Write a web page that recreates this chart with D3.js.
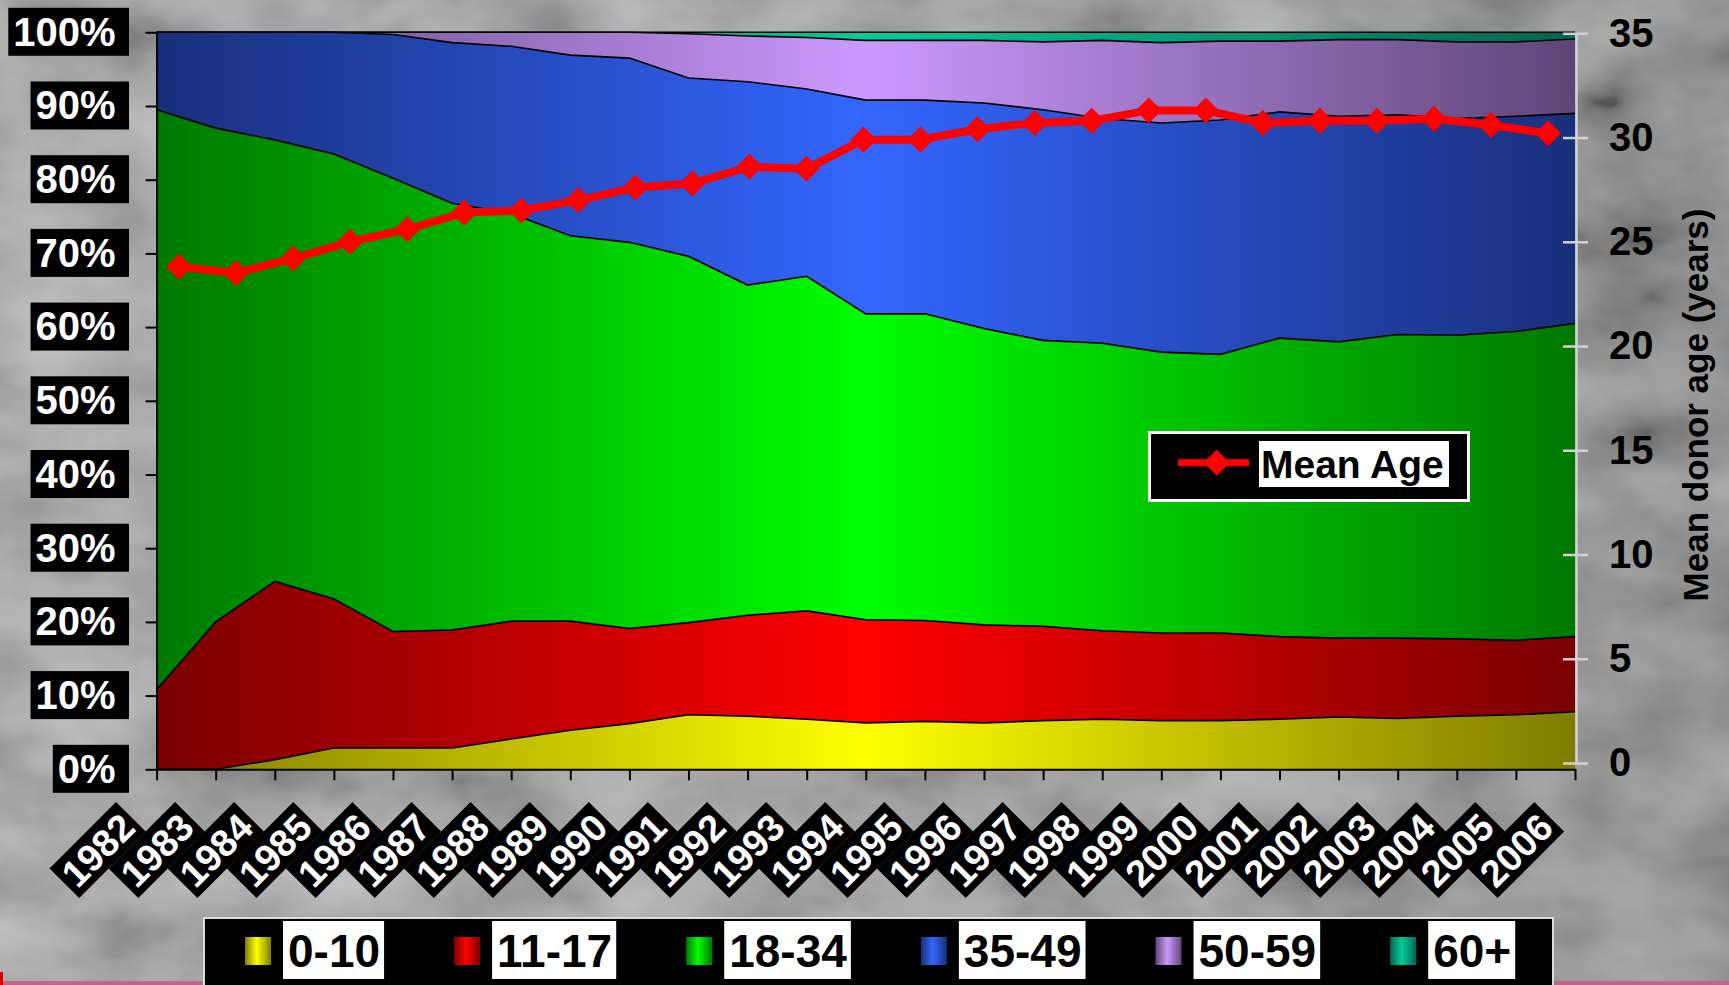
<!DOCTYPE html>
<html>
<head>
<meta charset="utf-8">
<script src="https://cdn.jsdelivr.net/npm/d3@7.9.0/dist/d3.min.js"></script>
<style>
  html, body { margin: 0; padding: 0; background: #8c8c8c; overflow: hidden; }
  svg { display: block; font-family: "Liberation Sans", Arial, sans-serif; font-weight: bold; }
</style>
</head>
<body>
<svg id="chart" width="1729" height="985"></svg>
<script>
// categories
const years = [1982, 1983, 1984, 1985, 1986, 1987, 1988, 1989, 1990, 1991, 1992, 1993,
  1994, 1995, 1996, 1997, 1998, 1999, 2000, 2001, 2002, 2003, 2004, 2005, 2006];
const ageGroups = ['0-10', '11-17', '18-34', '35-49', '50-59', '60+'];

// share of donors per age group (%)
const pct0to10 = [0, 0, 1.3, 2.9, 2.9, 2.9, 4.1, 5.3, 6.2, 7.4, 7.2, 6.8, 6.3, 6.5, 6.3, 6.6, 6.8, 6.6, 6.6, 6.8, 7.1, 6.9, 7.2, 7.4, 7.8];
const pct11to17 = [10.8, 20.0, 24.2, 20.2, 15.8, 16.0, 16.0, 14.8, 12.9, 12.5, 13.7, 14.7, 14.0, 13.7, 13.3, 12.8, 12.0, 11.9, 11.9, 11.2, 10.7, 10.9, 10.5, 10.1, 10.2];
const pct18to34 = [78.7, 67.0, 59.9, 60.4, 61.5, 57.9, 55.3, 52.3, 52.4, 49.7, 44.8, 45.4, 41.5, 41.6, 40.2, 38.8, 39.0, 38.1, 37.8, 40.5, 40.2, 41.2, 41.2, 41.9, 42.5];
const pct35to49 = [10.5, 13.0, 14.6, 16.5, 19.5, 21.8, 22.7, 24.5, 25.0, 24.2, 27.6, 25.4, 29.0, 29.0, 30.6, 31.3, 30.5, 31.1, 31.8, 30.7, 30.6, 29.8, 29.4, 29.2, 28.5];
const pct50to59 = [0, 0, 0, 0, 0.3, 1.4, 1.9, 3.1, 3.5, 6.0, 6.2, 7.0, 8.1, 8.1, 8.5, 9.2, 10.6, 10.9, 10.7, 9.6, 10.4, 10.2, 10.4, 10.1, 10.1];
const pct60plus = [0, 0, 0, 0, 0, 0, 0, 0, 0, 0.2, 0.5, 0.7, 1.1, 1.1, 1.1, 1.3, 1.1, 1.4, 1.2, 1.2, 1.0, 1.0, 1.3, 1.3, 0.9];

// mean donor age (years)
const meanAge = [23.8, 23.5, 24.2, 25.0, 25.6, 26.4, 26.5, 27.0, 27.6, 27.8, 28.6, 28.5, 29.9, 29.9, 30.4, 30.7, 30.8, 31.3, 31.3, 30.7, 30.8, 30.8, 30.9, 30.6, 30.2];

// tick labels
const pctTicks = [0, 10, 20, 30, 40, 50, 60, 70, 80, 90, 100];
const ageTicks = [0, 5, 10, 15, 20, 25, 30, 35];

const seriesArrays = [pct0to10, pct11to17, pct18to34, pct35to49, pct50to59, pct60plus];
const rows = years.map((yr, i) => {
  const r = { year: yr };
  ageGroups.forEach((g, k) => { r[g] = seriesArrays[k][i]; });
  return r;
});

const brightColors = ['#ffff00', '#ff0000', '#00ff00', '#3366ff', '#cc99ff', '#00cc99'];
const darkColors = ['#807c00', '#7a0000', '#007800', '#182f7a', '#5e4678', '#006650'];

const W = 1729, H = 985;
const plotLeft = 156.6, plotRight = 1575, plotTop = 32.3, plotBottom = 769.3;

const svg = d3.select('#chart');
const defs = svg.append('defs');

// textured grey backdrop
const tex = defs.append('filter').attr('id', 'tex').attr('x', 0).attr('y', 0).attr('width', 1).attr('height', 1);
tex.append('feTurbulence').attr('type', 'fractalNoise').attr('baseFrequency', '0.007 0.011').attr('numOctaves', 4).attr('seed', 3);
tex.append('feColorMatrix').attr('type', 'matrix')
  .attr('values', '0.33 0.33 0.33 0 0  0.33 0.33 0.33 0 0  0.33 0.33 0.33 0 0  0 0 0 0 1');
const ct = tex.append('feComponentTransfer');
['feFuncR', 'feFuncG', 'feFuncB'].forEach(f => ct.append(f).attr('type', 'linear').attr('slope', 2.2).attr('intercept', -0.6));

const bgGrad = defs.append('linearGradient').attr('id', 'bg').attr('x1', 0).attr('x2', 1).attr('y1', 0).attr('y2', 0);
bgGrad.append('stop').attr('offset', 0).attr('stop-color', '#a2a2a2');
bgGrad.append('stop').attr('offset', 0.6).attr('stop-color', '#9a9a9a');
bgGrad.append('stop').attr('offset', 1).attr('stop-color', '#808080');

svg.append('rect').attr('width', W).attr('height', H).attr('fill', 'url(#bg)');
svg.append('rect').attr('width', W).attr('height', H).attr('filter', 'url(#tex)').attr('opacity', 0.35);

// pink strip along the very bottom
svg.append('rect').attr('x', 0).attr('y', 981).attr('width', W).attr('height', 4).attr('fill', '#c0668c');
svg.append('rect').attr('x', 0).attr('y', 972).attr('width', 3).attr('height', 13).attr('fill', '#e00000');

// horizontal gradients: dark edges, bright middle
ageGroups.forEach((g, k) => {
  const lg = defs.append('linearGradient').attr('id', 'fill' + k)
    .attr('gradientUnits', 'userSpaceOnUse')
    .attr('x1', plotLeft).attr('x2', plotRight).attr('y1', 0).attr('y2', 0);
  lg.append('stop').attr('offset', 0).attr('stop-color', darkColors[k]);
  lg.append('stop').attr('offset', 0.5).attr('stop-color', brightColors[k]);
  lg.append('stop').attr('offset', 1).attr('stop-color', darkColors[k]);

  const sg = defs.append('linearGradient').attr('id', 'swatch' + k);
  sg.append('stop').attr('offset', 0).attr('stop-color', darkColors[k]);
  sg.append('stop').attr('offset', 0.45).attr('stop-color', brightColors[k]);
  sg.append('stop').attr('offset', 1).attr('stop-color', darkColors[k]);
});

// scales
const x = d3.scalePoint().domain(years).range([plotLeft, plotRight]);
const xLine = d3.scalePoint().domain(years).range([179, 1548]);
const y = d3.scaleLinear().domain([0, 100]).range([plotBottom, plotTop]);
const yAge = d3.scaleLinear().domain([0, 35]).range([763, 33.3]);

// stacked areas
const stacked = d3.stack().keys(ageGroups)(rows);
const area = d3.area().x(d => x(d.data.year)).y0(d => y(d[0])).y1(d => y(d[1]));
const topLine = d3.line().x(d => x(d.data.year)).y(d => y(d[1]));

svg.append('g').selectAll('path').data(stacked).join('path')
  .attr('d', area)
  .attr('fill', (d, i) => `url(#fill${i})`);

svg.append('g').selectAll('path').data(stacked).join('path')
  .attr('d', topLine)
  .attr('fill', 'none')
  .attr('stroke', '#000')
  .attr('stroke-width', 1.6);

// bottom axis
const xAxis = svg.append('g').attr('transform', `translate(0,${plotBottom})`)
  .call(d3.axisBottom(x).tickSize(11).tickSizeOuter(0).tickFormat(''));
xAxis.select('.domain').attr('stroke', '#000').attr('stroke-width', 2);
xAxis.selectAll('.tick line').attr('stroke', '#000').attr('stroke-width', 2);

// left axis with boxed white labels
const yAxis = svg.append('g').attr('transform', `translate(${plotLeft},0)`)
  .call(d3.axisLeft(y).tickValues(pctTicks).tickSize(11).tickSizeOuter(0).tickPadding(30).tickFormat(d => d + '%'));
yAxis.select('.domain').attr('stroke', '#000').attr('stroke-width', 2);
yAxis.selectAll('.tick line').attr('stroke', '#000').attr('stroke-width', 2);
yAxis.selectAll('.tick text')
  .attr('fill', '#fff')
  .style('font-size', '40px')
  .style('font-family', '"Liberation Sans", Arial, sans-serif')
  .style('font-weight', 'bold');
yAxis.selectAll('.tick').each(function () {
  const t = d3.select(this).select('text');
  const bb = t.node().getBBox();
  d3.select(this).insert('rect', 'text')
    .attr('x', bb.x - 5)
    .attr('y', -25)
    .attr('width', (129 - plotLeft) - (bb.x - 5))
    .attr('height', 48)
    .attr('fill', '#000');
});

// right axis
const rAxis = svg.append('g').attr('transform', `translate(1576,0)`)
  .call(d3.axisRight(yAge).tickValues(ageTicks).tickSize(12).tickSizeOuter(0).tickPadding(21));
rAxis.select('.domain').attr('stroke', '#d2d2d2').attr('stroke-width', 2.5);
rAxis.selectAll('.tick line').attr('x1', -13).attr('stroke', '#d2d2d2').attr('stroke-width', 2.5);
rAxis.selectAll('.tick text')
  .attr('fill', '#000')
  .style('font-size', '40px')
  .style('font-family', '"Liberation Sans", Arial, sans-serif')
  .style('font-weight', 'bold');

svg.append('text')
  .attr('transform', 'translate(1708,405) rotate(-90)')
  .attr('text-anchor', 'middle')
  .attr('fill', '#000')
  .style('font-size', '35px')
  .text('Mean donor age (years)');

// mean age line
const ageLine = d3.line().x((d, i) => xLine(years[i])).y(d => yAge(d));
svg.append('path')
  .attr('d', ageLine(meanAge))
  .attr('fill', 'none')
  .attr('stroke', '#ff0000')
  .attr('stroke-width', 8)
  .attr('stroke-linejoin', 'round');

const diamond = d3.symbol(d3.symbolSquare, 340);
svg.append('g').selectAll('path').data(meanAge).join('path')
  .attr('d', diamond)
  .attr('transform', (d, i) => `translate(${xLine(years[i])},${yAge(d)}) rotate(45)`)
  .attr('fill', '#ff0000');

// Mean Age legend
const ml = svg.append('g');
ml.append('rect').attr('x', 1149.5).attr('y', 432.5).attr('width', 319).attr('height', 68)
  .attr('fill', '#000').attr('stroke', '#fff').attr('stroke-width', 3);
ml.append('line').attr('x1', 1178).attr('x2', 1249).attr('y1', 462.7).attr('y2', 462.7)
  .attr('stroke', '#ff0000').attr('stroke-width', 7);
ml.append('path').attr('d', diamond).attr('transform', 'translate(1216.7,462.7) rotate(45)').attr('fill', '#ff0000');
ml.append('rect').attr('x', 1259).attr('y', 441).attr('width', 190).attr('height', 46).attr('fill', '#fff');
ml.append('text').attr('x', 1261).attr('y', 477.7).attr('fill', '#000').style('font-size', '39px').text('Mean Age');

// rotated year labels in black boxes
const yl = svg.append('g');
const labelG = yl.selectAll('g').data(years).join('g')
  .attr('transform', d => `translate(${x(d) - 59},${850}) rotate(-45)`);
labelG.append('rect').attr('x', -47).attr('y', -21).attr('width', 94).attr('height', 42).attr('fill', '#000');
labelG.append('text')
  .attr('text-anchor', 'middle')
  .attr('dy', '0.36em')
  .attr('fill', '#fff')
  .style('font-size', '38px')
  .text(d => d);

// bottom legend
const lg = svg.append('g');
lg.append('rect').attr('x', 204).attr('y', 918).attr('width', 1349).attr('height', 90)
  .attr('fill', '#000').attr('stroke', '#dcdcdc').attr('stroke-width', 2);
let cx = 245;
ageGroups.forEach((g, k) => {
  lg.append('rect').attr('x', cx).attr('y', 937).attr('width', 26).attr('height', 28).attr('fill', `url(#swatch${k})`);
  const box = lg.append('rect').attr('x', cx + 38).attr('y', 921).attr('height', 58).attr('fill', '#fff');
  const t = lg.append('text').attr('x', cx + 43).attr('y', 966.7).attr('fill', '#000')
    .style('font-size', '46px').text(g);
  const w = t.node().getComputedTextLength();
  box.attr('width', w + 9);
  cx = cx + 38 + w + 9 + 70;
});
</script>
</body>
</html>
